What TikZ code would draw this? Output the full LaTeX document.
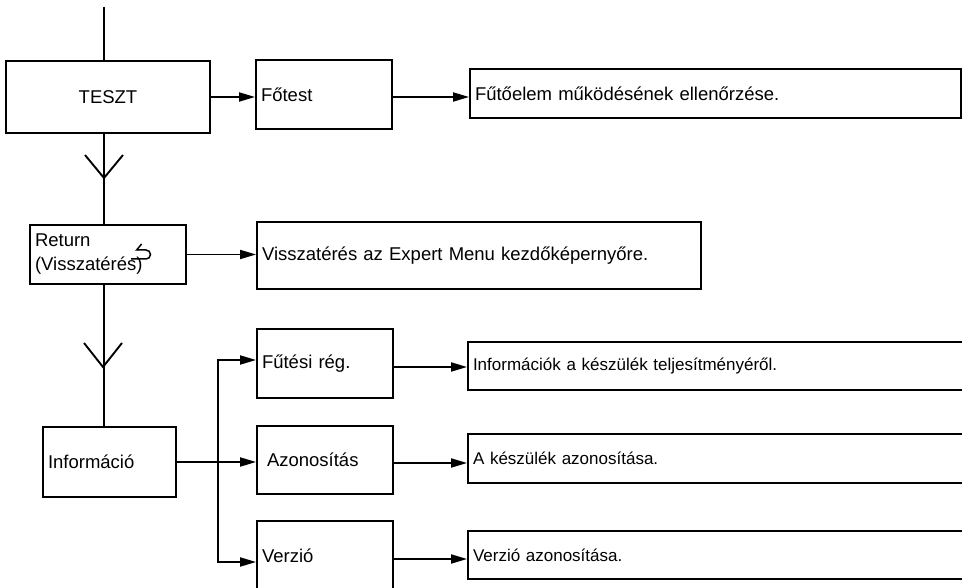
\documentclass[tikz,border=0pt]{standalone}
\usepackage{fontspec}
\setmainfont{Liberation Sans}
\usetikzlibrary{positioning,arrows.meta}

\begin{document}
\begin{tikzpicture}[x=1pt, y=-1pt, >={Triangle[length=16pt,width=9pt]},
                    line width=1.9pt, font=\fontsize{18.5}{22}\selectfont,
                    box/.style={draw, rectangle, align=left, inner xsep=5pt, inner ysep=2pt},
                    small/.style={font=\fontsize{17}{20}\selectfont}]
                    \useasboundingbox (0,0) rectangle (962,588);
                    \clip (0,0) rectangle (962,588);

                    % left column
                    \node[box, minimum width=204, minimum height=72, align=center] (teszt) at (108,97) {TESZT};
                    \node[box, text width=146, minimum height=59] (return) at (108,254.5) {Return\\[2pt](Visszatérés)};
                    \node[box, text width=123, minimum height=70] (info) at (109.5,462) {Információ};

                    % middle column
                    \node[box, text width=126, minimum height=69] (fotest) at (324,94.5) {Főtest};
                    \node[box, text width=434, minimum height=67] (vissza) at (479,255.5) {Visszatérés az Expert Menu kezdőképernyőre.};
                    \node[box, text width=126, minimum height=69] (futesi) at (325,363.5) {Fűtési rég.};
                    \node[box, text width=126, minimum height=68] (azon) at (325,460) {\hspace*{5pt}Azonosítás};
                    \node[box, text width=126, minimum height=70] (verzio) at (325,556) {Verzió};

                    % right column
                    \node[box, text width=481, minimum height=49] (futoelem) at (715.5,93.5) {Fűtőelem működésének ellenőrzése.};
                    \node[box, small, text width=490, minimum height=48] (infok) at (718,366) {Információk a készülék teljesítményéről.};
                    \node[box, small, text width=490, minimum height=49] (azonk) at (718,458.5) {A készülék azonosítása.};
                    \node[box, small, text width=490, minimum height=48] (verziok) at (718,555) {Verzió azonosítása.};

                    % main line with the two chevrons
                    \coordinate (top) at (104,7);
                    \coordinate (v1) at (104,178);
                    \coordinate (v2) at (103,367);
                    \draw (top) -- (top |- teszt.north);
                    \draw (top |- teszt.south) -- (top |- return.north);
                    \draw (top |- return.south) -- (top |- info.north);
                    \draw (v1) ++(-19,-23) -- (v1) -- ++(19,-23);
                    \draw (v2) ++(-19,-24) -- (v2) -- ++(19,-24);

                    % return symbol
                    \draw[line width=1.5pt, -{Straight Barb[right,length=5pt,width=12pt]}]
                        (131,259) -- (146,259) arc[start angle=-90, end angle=90, radius=4.5pt] -- (135,250);

                    \draw[->] (teszt.east) -- (teszt.east -| fotest.west);
                    \draw[->] (teszt.east -| fotest.east) -- (teszt.east -| futoelem.west);
                    \draw[->] (return.east) -- (return.east -| vissza.west);

                    % branches of the information menu
                    \coordinate[right=41pt of info.east] (branch);
                    \draw (info.east) -- (branch);
                    \draw[->] (branch) -- (branch -| azon.west);
                    \draw[->] (branch) |- ([yshift=3.5pt]futesi.west);
                    \draw[->] (branch) |- ([yshift=-6pt]verzio.west);
                    \draw[->] ([yshift=-3.5pt]futesi.east) -- ([yshift=-3.5pt]futesi.east -| infok.west);
                    \draw[->] ([yshift=-3pt]azon.east) -- ([yshift=-3pt]azon.east -| azonk.west);
                    \draw[->] ([yshift=-3pt]verzio.east) -- ([yshift=-3pt]verzio.east -| verziok.west);
                \end{tikzpicture}
\end{document}
